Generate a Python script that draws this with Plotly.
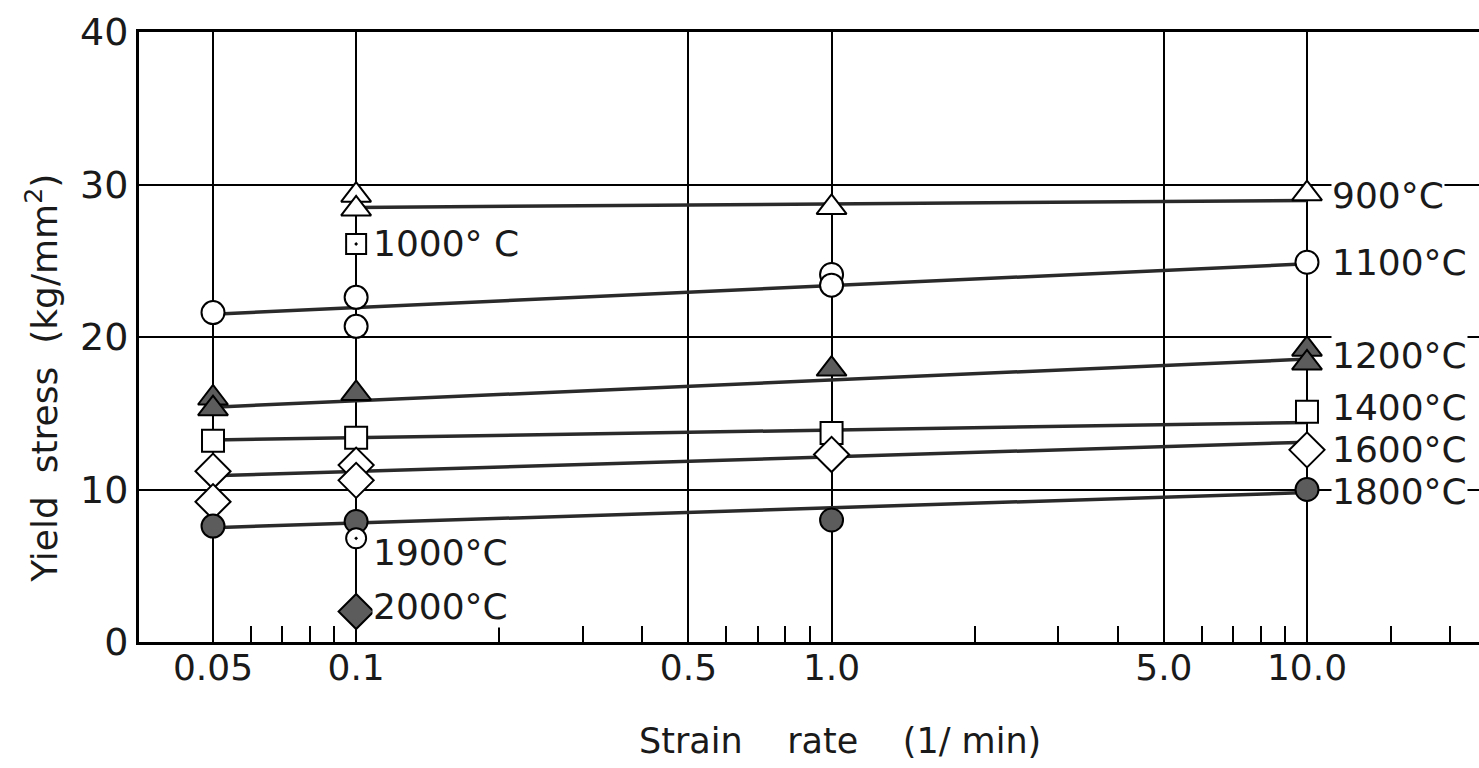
import plotly.graph_objects as go
import math

FONT = "DejaVu Sans"

# ---- data ----
x_900 = [0.1, 0.1, 1.0, 10.0]
y_900 = [29.3, 28.4, 28.5, 29.4]
x_1000 = [0.1]
y_1000 = [26.1]
x_1100 = [0.05, 0.1, 0.1, 1.0, 1.0, 10.0]
y_1100 = [21.6, 22.6, 20.7, 24.1, 23.4, 24.9]
x_1200 = [0.05, 0.05, 0.1, 1.0, 10.0, 10.0]
y_1200 = [16.0, 15.3, 16.3, 17.9, 19.2, 18.3]
x_1400 = [0.05, 0.1, 1.0, 10.0]
y_1400 = [13.2, 13.4, 13.7, 15.1]
x_1600 = [0.05, 0.05, 0.1, 0.1, 1.0, 10.0]
y_1600 = [11.2, 9.2, 11.6, 10.6, 12.3, 12.6]
x_1800 = [0.05, 0.1, 1.0, 10.0]
y_1800 = [7.6, 7.9, 8.0, 10.0]
x_1900 = [0.1]
y_1900 = [6.8]
x_2000 = [0.1]
y_2000 = [2.0]

# fitted lines (end points)
fit_x_900 = [0.1, 10.0]
fit_y_900 = [28.5, 28.95]
fit_x_1100 = [0.05, 10.0]
fit_y_1100 = [21.5, 24.8]
fit_x_1200 = [0.05, 10.0]
fit_y_1200 = [15.4, 18.55]
fit_x_1400 = [0.05, 10.0]
fit_y_1400 = [13.25, 14.4]
fit_x_1600 = [0.05, 10.0]
fit_y_1600 = [10.9, 13.1]
fit_x_1800 = [0.05, 10.0]
fit_y_1800 = [7.5, 9.8]

# labels
label_text = ["900°C", "1100°C", "1200°C", "1400°C", "1600°C", "1800°C",
              "1000° C", "1900°C", "2000°C"]
label_x = [10.0, 10.0, 10.0, 10.0, 10.0, 10.0, 0.1, 0.1, 0.1]
label_y = [29.3, 24.9, 18.8, 15.4, 12.6, 9.9, 26.1, 5.85, 2.3]

x_tick_vals = [0.05, 0.1, 0.5, 1.0, 5.0, 10.0]
x_tick_text = ["0.05", "0.1", "0.5", "1.0", "5.0", "10.0"]
x_minor_vals = [0.06, 0.07, 0.08, 0.09, 0.2, 0.3, 0.4, 0.6, 0.7, 0.8, 0.9,
                2, 3, 4, 6, 7, 8, 9, 15, 20]
y_tick_vals = [0, 10, 20, 30, 40]

x_title = "Strain    rate    (1/ min)"
y_title = "Yield  stress  (kg/mm<sup>2</sup>)"

FILL = "#5c5c5c"
LINEC = "#2a2a2a"
TXT = "#1a1a1a"

fig = go.Figure()

fits = [(fit_x_900, fit_y_900), (fit_x_1100, fit_y_1100), (fit_x_1200, fit_y_1200),
        (fit_x_1400, fit_y_1400), (fit_x_1600, fit_y_1600), (fit_x_1800, fit_y_1800)]
for fx, fy in fits:
    fig.add_trace(go.Scatter(x=fx, y=fy, mode="lines",
                             line=dict(color=LINEC, width=3.5),
                             hoverinfo="skip", showlegend=False))

series = [
    (x_900, y_900, "triangle-up", "white", 26),
    (x_1000, y_1000, "square-dot", "white", 20),
    (x_1100, y_1100, "circle", "white", 23),
    (x_1200, y_1200, "triangle-up", FILL, 26),
    (x_1400, y_1400, "square", "white", 22),
    (x_1600, y_1600, "diamond", "white", 27),
    (x_1800, y_1800, "circle", FILL, 23),
    (x_1900, y_1900, "circle-dot", "white", 20),
    (x_2000, y_2000, "diamond", FILL, 27),
]
for sx, sy, sym, col, sz in series:
    fig.add_trace(go.Scatter(x=sx, y=sy, mode="markers",
                             marker=dict(symbol=sym, color=col, size=sz,
                                         line=dict(color="black", width=2)),
                             showlegend=False))

for t, lx, ly in zip(label_text, label_x, label_y):
    fig.add_annotation(x=math.log10(lx), y=ly, text=t, showarrow=False,
                       xanchor="left", yanchor="middle",
                       xshift=24 if lx >= 10 else 16,
                       font=dict(family=FONT, size=36, color=TXT),
                       bgcolor="white", borderpad=0)

# axis titles
fig.add_annotation(xref="paper", yref="paper", x=0.523, y=-0.163,
                   text=x_title, showarrow=False, xanchor="center", yanchor="middle",
                   font=dict(family=FONT, size=35, color=TXT))
fig.add_annotation(xref="paper", yref="paper", x=-0.0724, y=0.433,
                   text=y_title, showarrow=False, xanchor="center", yanchor="middle",
                   textangle=-90,
                   font=dict(family=FONT, size=36, color=TXT))

fig.update_xaxes(
    type="log",
    range=[-1.4567, 1.3618],
    tickvals=x_tick_vals, ticktext=x_tick_text,
    ticks="", showgrid=True, gridcolor="black", gridwidth=1.6,
    showline=True, linecolor="black", linewidth=3, mirror=True,
    zeroline=False,
    tickfont=dict(family=FONT, size=36, color=TXT),
    ticklabelstandoff=-8,
    minor=dict(tickvals=x_minor_vals, ticks="inside", ticklen=16,
               tickwidth=2, tickcolor="black", showgrid=False),
)
fig.update_yaxes(
    range=[0, 40],
    tickvals=y_tick_vals,
    ticks="", showgrid=True, gridcolor="black", gridwidth=1.6,
    showline=True, linecolor="black", linewidth=3,
    zeroline=False,
    tickfont=dict(family=FONT, size=38, color=TXT),
    ticklabelstandoff=0,
)

fig.update_layout(
    width=1479, height=768,
    margin=dict(l=139, r=0, t=32, b=126),
    paper_bgcolor="white", plot_bgcolor="white",
    showlegend=False,
)

fig.write_html("out.html")
